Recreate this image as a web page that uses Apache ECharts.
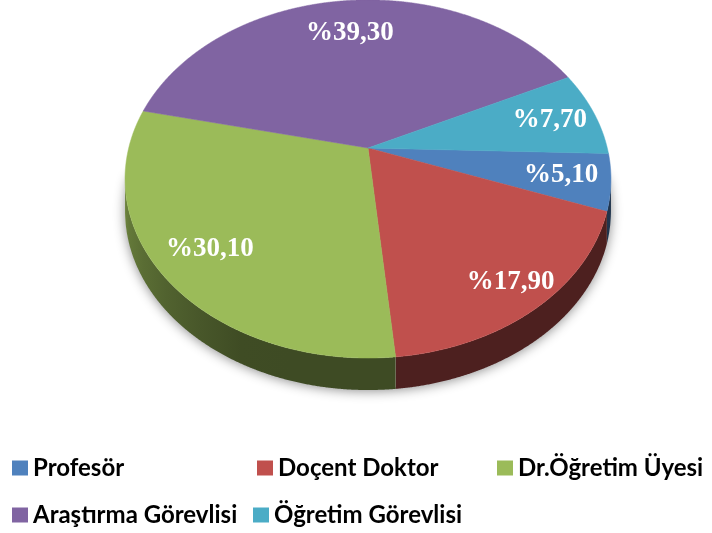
<!DOCTYPE html>
<html><head><meta charset="utf-8">
<script src="https://cdn.jsdelivr.net/npm/echarts@6/dist/echarts.min.js"></script>
<style>html,body{margin:0;padding:0;background:#fff}#c{width:712px;height:533px}</style>
</head><body><div id="c"></div>
<script>
const categories = ['Profesör', 'Doçent Doktor', 'Dr.Öğretim Üyesi', 'Araştırma Görevlisi', 'Öğretim Görevlisi'];
const values = [5.1, 17.9, 30.1, 39.3, 7.7];
const colors = ['#4F81BD', '#C0504D', '#9BBB59', '#8064A2', '#4BACC6'];
const labelRadius = [0.8, 0.86, 0.8, 0.75, 0.8];

// geometry of the tilted (perspective) disc
const CX = 368, CY = 148, A = 239.3, B = 173.7, K = 0.173, DEPTH = 32;
const START = 1.8 * Math.PI / 180;
const total = values.reduce((s, v) => s + v, 0);

function P(t, f, dy) {
  const u = Math.cos(t), v = Math.sin(t);
  const d = 1 - K * f * v;
  return [CX + A * f * u / d, CY + B * f * v / d + (dy || 0)];
}
function arc(a, b, f, dy) {
  const pts = [];
  const n = Math.max(2, Math.ceil(Math.abs(b - a) / 0.004));
  for (let j = 0; j <= n; j++) pts.push(P(a + (b - a) * j / n, f, dy));
  return pts;
}
function hexRgb(h) { return [parseInt(h.substr(1, 2), 16), parseInt(h.substr(3, 2), 16), parseInt(h.substr(5, 2), 16)]; }
function shade(h, f) { const c = hexRgb(h); return 'rgb(' + c.map(x => Math.round(x * f)).join(',') + ')'; }
function fac(t) {
  const deg = t * 180 / Math.PI;
  if (deg <= 115) return 0.40;
  return 0.40 + 0.30 * Math.min(1, (deg - 115) / 55);
}
const S1 = Math.asin(K), S2 = Math.PI - Math.asin(K);

function makeRender(i) {
  return function (params, api) {
    const val = api.value(0);
    let before = 0;
    for (let j = 0; j < i; j++) before += values[j];
    const a = START + 2 * Math.PI * before / total;
    const b = a + 2 * Math.PI * val / total;
    const children = [];
    // side wall
    [0, 2 * Math.PI].forEach(off => {
      const sa = Math.max(a, S1 + off), sb = Math.min(b, S2 + off);
      if (sb > sa) {
        const top = arc(sa, sb, 1, 0);
        const bot = arc(sb, sa, 1, DEPTH);
        const xa = P(sa, 1)[0], xb = P(sb, 1)[0];
        const stops = [];
        const n = 8;
        for (let j = 0; j <= n; j++) {
          const t = sb - (sb - sa) * j / n;
          const x = P(t, 1)[0];
          stops.push({ offset: Math.min(1, Math.max(0, (x - xb) / ((xa - xb) || 1))), color: shade(colors[i], fac(t)) });
        }
        stops.sort((p, q) => p.offset - q.offset);
        children.push({
          type: 'polygon',
          shape: { points: top.concat(bot) },
          style: {
            fill: new echarts.graphic.LinearGradient(xb, 0, xa, 0, stops, true),
            stroke: null
          }
        });
      }
    });
    // top face
    const pts = [[CX, CY]].concat(arc(a, b, 1, 0));
    children.push({
      type: 'polygon',
      shape: { points: pts },
      style: { fill: colors[i], stroke: colors[i], lineWidth: 0.5 }
    });
    // label
    const m = (a + b) / 2;
    const lp = P(m, labelRadius[i], 0);
    children.push({
      type: 'text',
      x: lp[0], y: lp[1],
      style: {
        text: '%' + val.toFixed(2).replace('.', ','),
        fill: '#ffffff',
        font: 'bold 27px "Liberation Serif", "Times New Roman", serif',
        align: 'center', verticalAlign: 'middle'
      },
      z2: 10
    });
    return { type: 'group', children: children };
  };
}

const series = [{
  type: 'custom',
  coordinateSystem: 'none',
  silent: true,
  z: 1,
  data: [[1]],
  renderItem: function () {
    return {
      type: 'polygon',
      shape: { points: arc(S1 - 0.2, S2 + 0.2, 1, DEPTH - 2) },
      style: { fill: '#ffffff', shadowBlur: 12, shadowColor: 'rgba(0,0,0,0.45)', shadowOffsetY: 3 }
    };
  }
}];
categories.forEach((name, i) => {
  series.push({
    type: 'custom',
    name: name,
    coordinateSystem: 'none',
    z: 2,
    itemStyle: { color: colors[i] },
    data: [[values[i]]],
    renderItem: makeRender(i)
  });
});

const legendPos = [[12, 456], [257, 456], [497, 456], [12, 503], [253, 503]];
const legends = categories.map((name, i) => ({
  data: [name],
  left: legendPos[i][0], top: legendPos[i][1],
  padding: 0,
  icon: 'rect', itemWidth: 16, itemHeight: 15, itemGap: 5,
  selectedMode: false,
  textStyle: { fontFamily: 'Lato', fontWeight: 'bold', fontSize: 24, lineHeight: 24, color: '#000', padding: [0, 0, 0, 0] }
}));

const chart = echarts.init(document.getElementById('c'), null, { renderer: 'canvas' });
chart.setOption({
  animation: false,
  backgroundColor: '#ffffff',
  legend: legends,
  series: series
});
</script>
</body></html>
